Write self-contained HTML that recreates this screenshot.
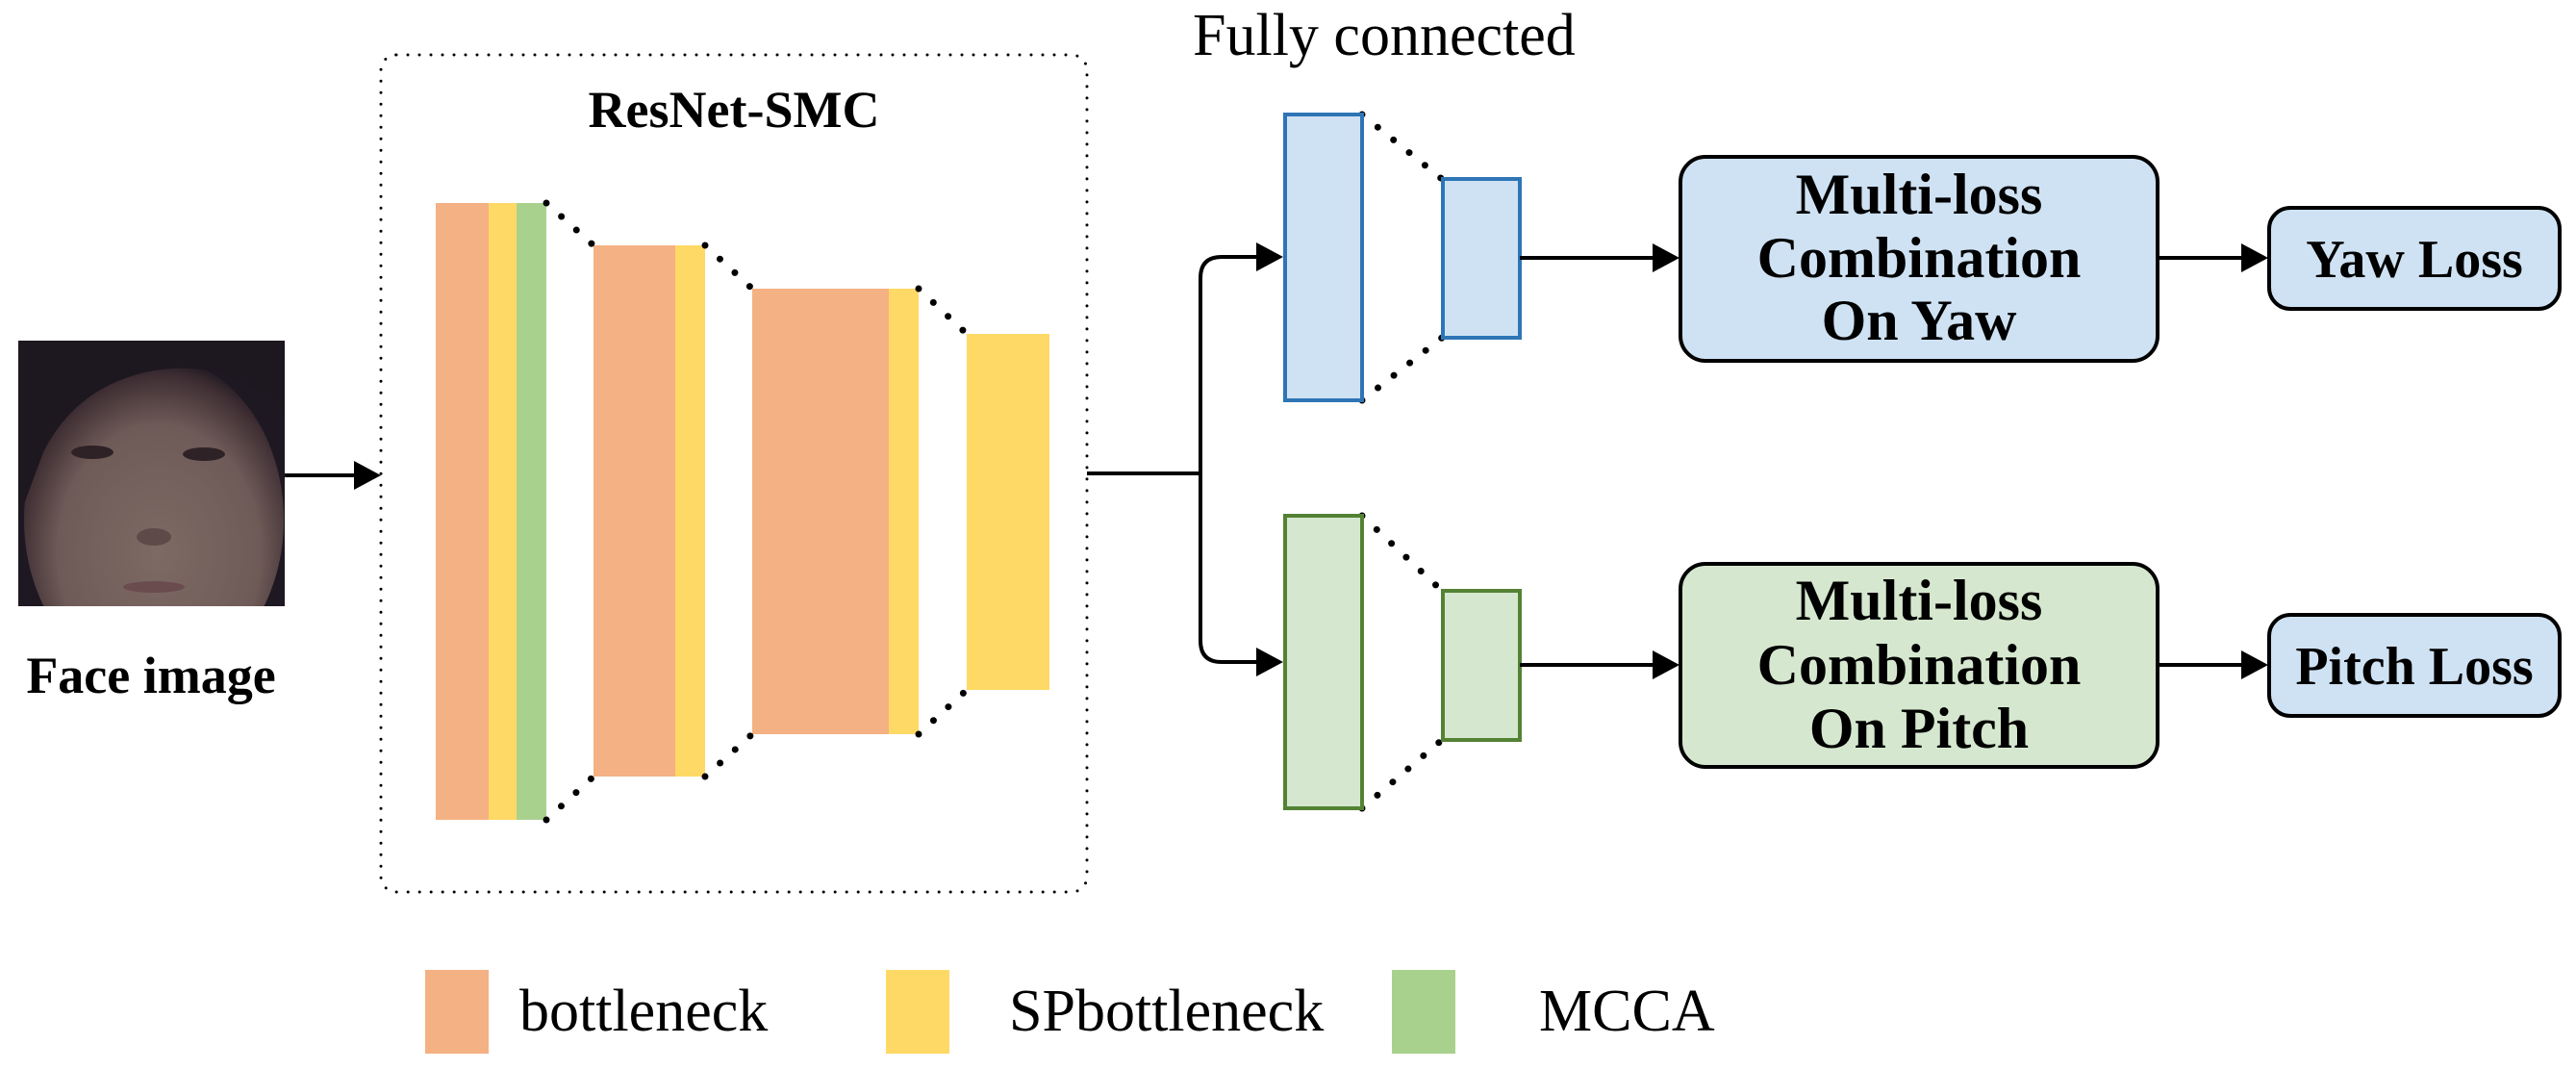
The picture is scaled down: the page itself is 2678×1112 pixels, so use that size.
<!DOCTYPE html>
<html><head><meta charset="utf-8"><style>
html,body{margin:0;padding:0;background:#fff;}
svg{display:block;}
svg text{font-family:'Liberation Serif','Times New Roman',Times,serif;}
</style></head><body>
<svg width="2678" height="1112" viewBox="0 0 2678 1112" xmlns="http://www.w3.org/2000/svg" font-family="'Liberation Serif', 'Times New Roman', serif">
<defs>
<radialGradient id="skin" cx="0.52" cy="0.6" r="0.6">
<stop offset="0" stop-color="#7e6a64"/><stop offset="0.65" stop-color="#6e5a57"/><stop offset="0.9" stop-color="#3e2e33"/><stop offset="1" stop-color="#1e1620"/>
</radialGradient>
<clipPath id="fc"><rect x="19" y="354" width="277" height="276"/></clipPath>
</defs>
<!-- face -->
<g clip-path="url(#fc)">
<rect x="19" y="354" width="277" height="276" fill="#1e1822"/>
<ellipse cx="160" cy="540" rx="135" ry="170" fill="url(#skin)"/>
<path d="M19 354 H296 V430 Q240 372 160 385 Q80 400 45 470 L19 540 Z" fill="#1d1720"/>
<ellipse cx="96" cy="470" rx="22" ry="7" fill="#2e2226"/>
<ellipse cx="212" cy="472" rx="22" ry="7" fill="#2e2226"/>
<ellipse cx="160" cy="558" rx="18" ry="9" fill="#5e4a48"/>
<ellipse cx="160" cy="610" rx="32" ry="6" fill="#6a4c4e"/>
</g>
<text x="157" y="720" font-size="54" font-weight="bold" text-anchor="middle" font-family="'Liberation Serif', serif">Face image</text>
<line x1="296" y1="494" x2="372" y2="494" stroke="#000" stroke-width="4"/>
<polygon points="396,494 368,479 368,509" fill="#000"/>
<rect x="396" y="57" width="734" height="870" rx="16" fill="none" stroke="#000" stroke-width="3" stroke-dasharray="0 12" stroke-linecap="round"/>
<text x="763" y="132" font-size="54" font-weight="bold" text-anchor="middle" font-family="'Liberation Serif', serif">ResNet-SMC</text>
<rect x="453" y="211" width="55" height="641" fill="#f4b183"/>
<rect x="508" y="211" width="29" height="641" fill="#ffd966"/>
<rect x="537" y="211" width="31" height="641" fill="#a9d18e"/>
<rect x="617" y="255" width="85" height="552" fill="#f4b183"/>
<rect x="702" y="255" width="31" height="552" fill="#ffd966"/>
<rect x="782" y="300" width="142" height="463" fill="#f4b183"/>
<rect x="924" y="300" width="31" height="463" fill="#ffd966"/>
<rect x="1005" y="347" width="86" height="370" fill="#ffd966"/>
<g stroke="#000" stroke-width="7" stroke-linecap="round" stroke-dasharray="0 21" fill="none">
<line x1="568" y1="211" x2="617" y2="255"/><line x1="568" y1="852" x2="617" y2="807"/>
<line x1="733" y1="255" x2="782" y2="300"/><line x1="733" y1="807" x2="782" y2="763"/>
<line x1="955" y1="300" x2="1005" y2="347"/><line x1="955" y1="763" x2="1005" y2="717"/>
<line x1="1416" y1="119" x2="1499" y2="186"/><line x1="1416" y1="416" x2="1499" y2="351"/>
<line x1="1416" y1="536" x2="1499" y2="614"/><line x1="1416" y1="840" x2="1499" y2="769"/>
</g>
<line x1="1130" y1="492" x2="1248" y2="492" stroke="#000" stroke-width="4"/>
<path d="M1310 267 H1270 Q1248 267 1248 289 V666 Q1248 688 1270 688 H1310" fill="none" stroke="#000" stroke-width="4"/>
<polygon points="1334,267 1306,252 1306,282" fill="#000"/>
<polygon points="1334,688 1306,673 1306,703" fill="#000"/>
<text x="1240" y="57" font-size="62" font-family="'Liberation Serif', serif">Fully connected</text>
<rect x="1336" y="119" width="80" height="297" fill="#cfe2f3" stroke="#2e75b6" stroke-width="4"/>
<rect x="1500" y="186" width="80" height="165" fill="#cfe2f3" stroke="#2e75b6" stroke-width="4"/>
<rect x="1336" y="536" width="80" height="304" fill="#d5e8cf" stroke="#548235" stroke-width="4"/>
<rect x="1500" y="614" width="80" height="155" fill="#d5e8cf" stroke="#548235" stroke-width="4"/>
<line x1="1580" y1="268" x2="1722" y2="268" stroke="#000" stroke-width="4"/>
<polygon points="1746,268 1718,253 1718,283" fill="#000"/>
<line x1="1580" y1="691" x2="1722" y2="691" stroke="#000" stroke-width="4"/>
<polygon points="1746,691 1718,676 1718,706" fill="#000"/>
<rect x="1747" y="163" width="496" height="212" rx="26" fill="#cfe2f3" stroke="#000" stroke-width="4"/>
<rect x="1747" y="586" width="496" height="211" rx="26" fill="#d5e8cf" stroke="#000" stroke-width="4"/>
<g font-size="60" font-weight="bold" text-anchor="middle" font-family="'Liberation Serif', serif">
<text x="1995" y="222">Multi-loss</text>
<text x="1995" y="288">Combination</text>
<text x="1995" y="353">On Yaw</text>
<text x="1995" y="644">Multi-loss</text>
<text x="1995" y="711">Combination</text>
<text x="1995" y="777">On Pitch</text>
</g>
<line x1="2243" y1="268" x2="2335" y2="268" stroke="#000" stroke-width="4"/>
<polygon points="2358,268 2330,253 2330,283" fill="#000"/>
<line x1="2243" y1="691" x2="2335" y2="691" stroke="#000" stroke-width="4"/>
<polygon points="2358,691 2330,676 2330,706" fill="#000"/>
<rect x="2359" y="216" width="302" height="105" rx="22" fill="#cfe2f3" stroke="#000" stroke-width="4"/>
<rect x="2359" y="639" width="302" height="105" rx="22" fill="#cfe2f3" stroke="#000" stroke-width="4"/>
<g font-size="56" font-weight="bold" text-anchor="middle" font-family="'Liberation Serif', serif">
<text x="2510" y="288">Yaw Loss</text>
<text x="2510" y="711">Pitch Loss</text>
</g>
<rect x="442" y="1008" width="66" height="87" fill="#f4b183"/>
<rect x="921" y="1008" width="66" height="87" fill="#ffd966"/>
<rect x="1447" y="1008" width="66" height="87" fill="#a9d18e"/>
<g font-size="62" font-family="'Liberation Serif', serif">
<text x="540" y="1071">bottleneck</text>
<text x="1049" y="1071">SPbottleneck</text>
<text x="1600" y="1071">MCCA</text>
</g>
</svg>
</body></html>
